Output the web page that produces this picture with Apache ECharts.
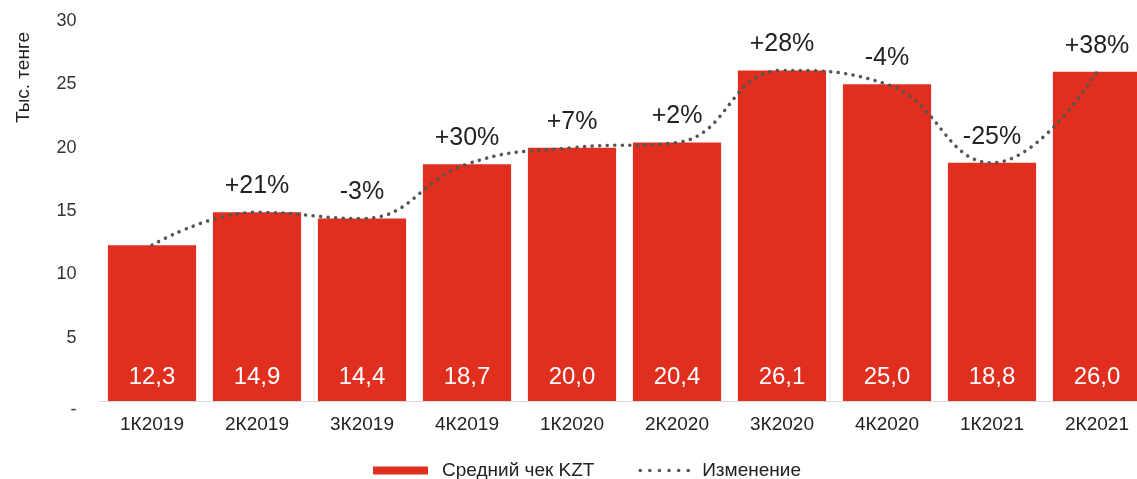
<!DOCTYPE html>
<html>
<head>
<meta charset="utf-8">
<script src="https://cdn.jsdelivr.net/npm/echarts@6/dist/echarts.min.js"></script>
<style>
  html, body { margin: 0; padding: 0; background: #fff; }
  #chart { width: 1137px; height: 479px; }
</style>
</head>
<body>
<div id="chart"></div>
<script>
// Quarterly average receipt, thousand tenge
const quarters = ['1К2019', '2К2019', '3К2019', '4К2019', '1К2020', '2К2020', '3К2020', '4К2020', '1К2021', '2К2021'];
const avgCheck = [12.3, 14.9, 14.4, 18.7, 20.0, 20.4, 26.1, 25.0, 18.8, 26.0];
// Quarter-over-quarter change labels
const changeLabels = ['', '+21%', '-3%', '+30%', '+7%', '+2%', '+28%', '-4%', '-25%', '+38%'];
const yTicks = [0, 5, 10, 15, 20, 25, 30];

const FONT = '"Liberation Sans", Arial, sans-serif';
const RED = '#e02f1f';
const DOT_LINE = { color: '#555', width: 3.5, type: [0.1, 7.5], cap: 'round' };

const chart = echarts.init(document.getElementById('chart'), null, { renderer: 'canvas' });

chart.setOption({
  animation: false,
  textStyle: { fontFamily: FONT },
  // the plot runs slightly past the right edge, so the last bar is clipped
  grid: {
    left: 99.5, width: 1050, top: 21, bottom: 78,
    containLabel: false, outerBoundsMode: 'none'
  },
  xAxis: {
    type: 'category',
    data: quarters,
    axisLine: { show: true, lineStyle: { color: '#d9d9d9', width: 1 } },
    axisTick: { show: false },
    axisLabel: { color: '#222', fontSize: 19, margin: 14, fontFamily: FONT }
  },
  yAxis: {
    type: 'value',
    min: yTicks[0],
    max: yTicks[yTicks.length - 1],
    interval: 5,
    splitLine: { show: false },
    axisLine: { show: false },
    axisTick: { show: false },
    axisLabel: {
      color: '#333', fontSize: 18, margin: 23, fontFamily: FONT,
      formatter: v => (v === 0 ? '{dash|-}' : String(v)),
      rich: { dash: { fontSize: 18, padding: [18, 0, 0, 0], color: '#333' } }
    }
  },
  legend: {
    left: 368,
    top: 456,
    itemGap: 44,
    itemWidth: 55,
    itemHeight: 8,
    textStyle: { color: '#222', fontSize: 19, fontFamily: FONT },
    data: [
      { name: 'Средний чек KZT', icon: 'rect', itemStyle: { color: RED },
        textStyle: { padding: [0, 0, 0, 9] } },
      { name: 'Изменение', lineStyle: { color: '#555', width: 3.5, type: [0.1, 9.5], cap: 'round' },
        textStyle: { padding: [0, 0, 0, 2] } }
    ]
  },
  graphic: [{
    type: 'text',
    left: 14,
    top: 32,
    rotation: Math.PI / 2,
    style: { text: 'Тыс. тенге', fill: '#222', font: '19px ' + FONT }
  }],
  series: [
    {
      name: 'Средний чек KZT',
      type: 'bar',
      data: avgCheck,
      barWidth: '84%',
      itemStyle: { color: RED },
      label: {
        show: true,
        position: 'insideBottom',
        distance: 12,
        color: '#fff',
        fontSize: 24,
        fontFamily: FONT,
        formatter: p => p.value.toFixed(1).replace('.', ',')
      },
      z: 2
    },
    {
      name: 'Изменение',
      type: 'line',
      data: avgCheck,
      smooth: 0.45,
      symbol: 'circle',
      symbolSize: 1,
      showSymbol: true,
      itemStyle: { color: 'rgba(0,0,0,0)' },
      lineStyle: DOT_LINE,
      label: {
        show: true,
        position: 'top',
        distance: 13,
        color: '#222',
        fontSize: 25,
        fontFamily: FONT,
        formatter: p => changeLabels[p.dataIndex]
      },
      z: 3
    }
  ]
});
</script>
</body>
</html>
